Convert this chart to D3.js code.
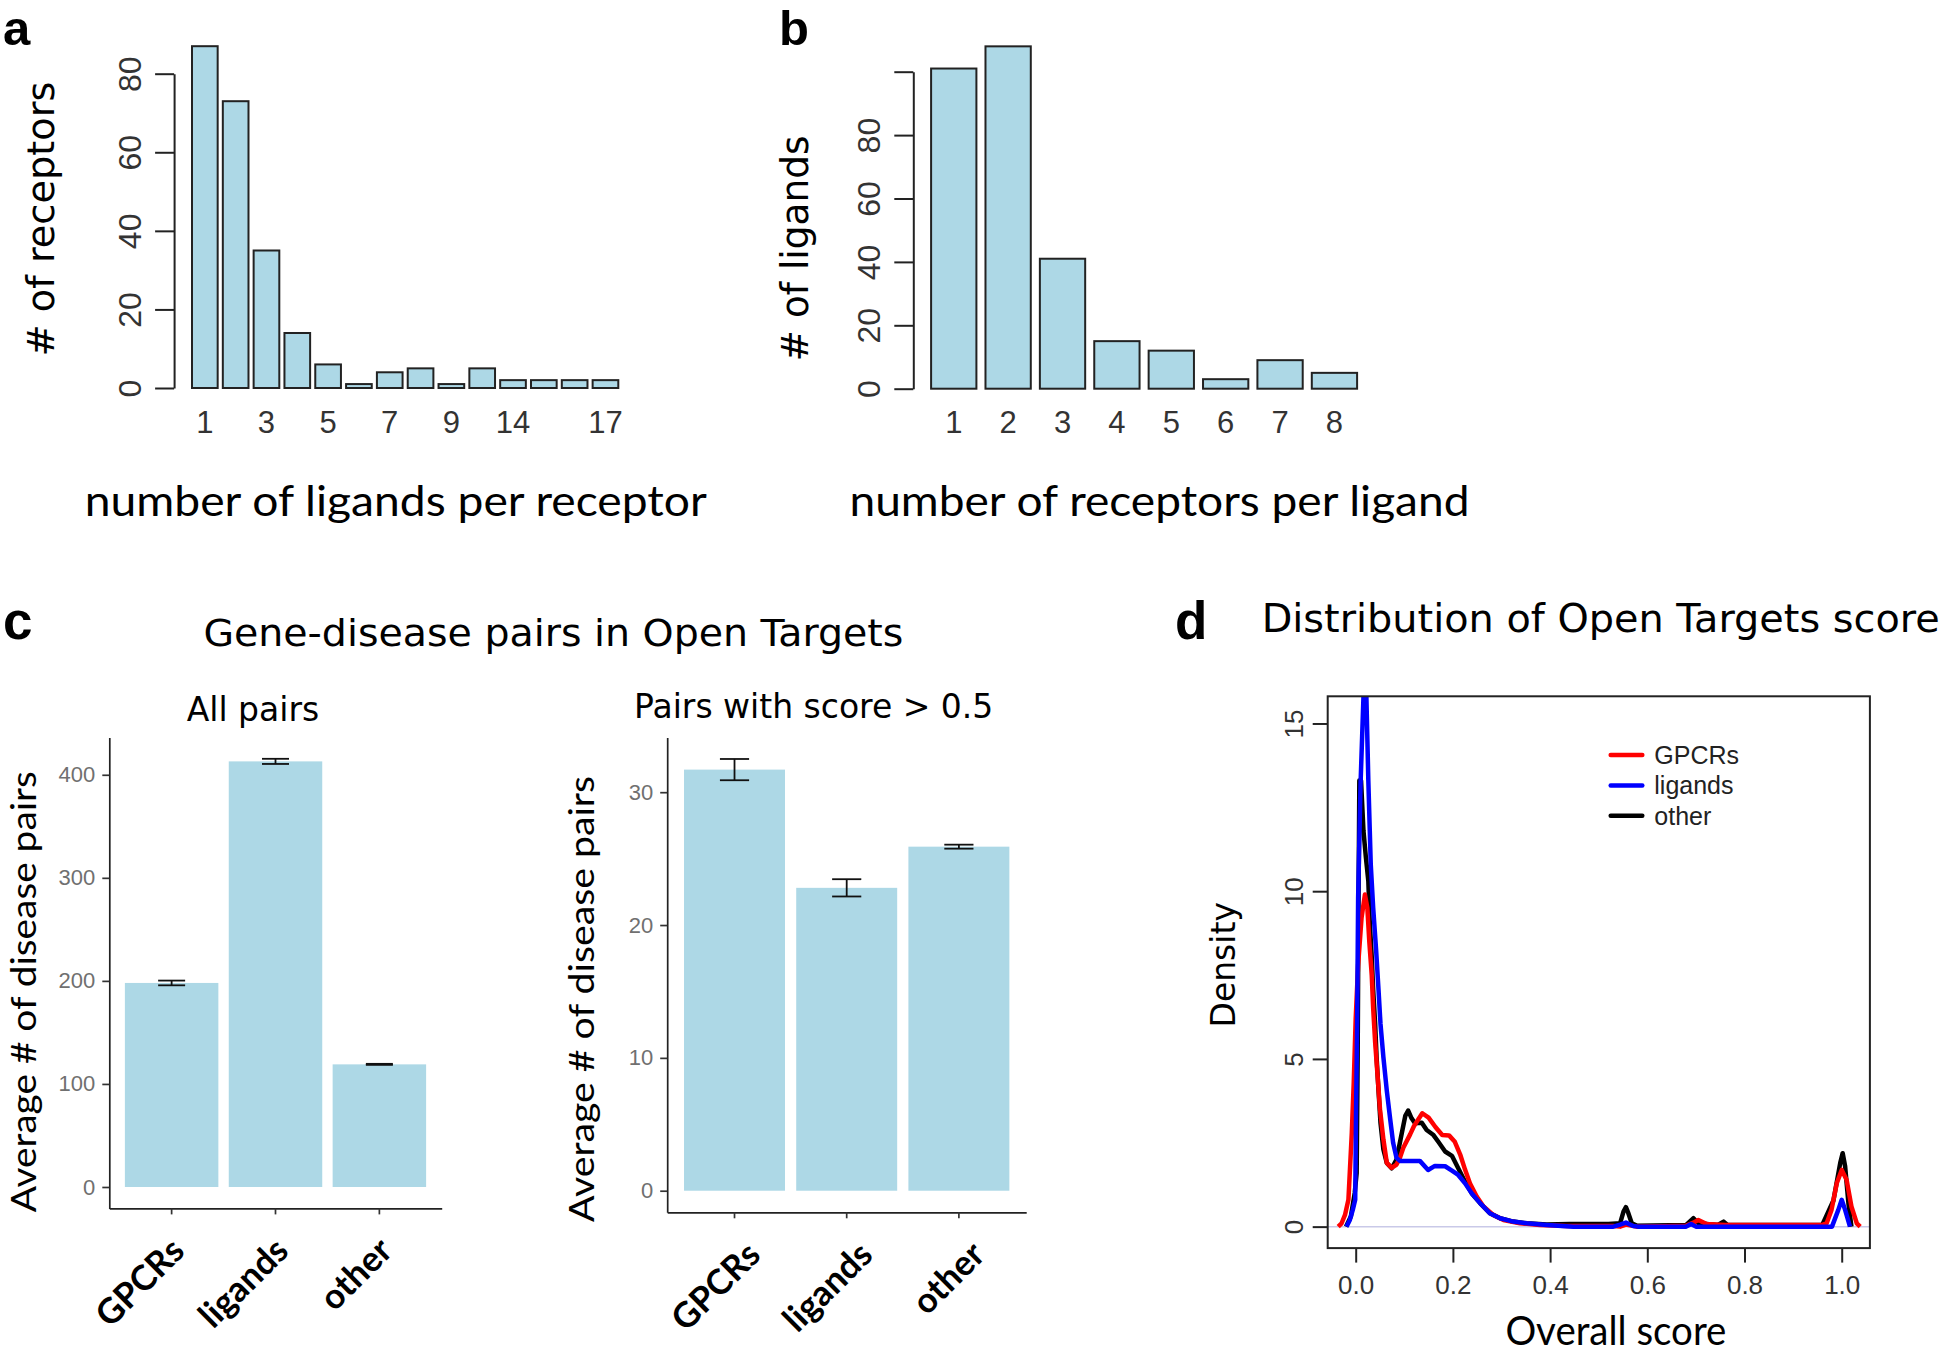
<!DOCTYPE html>
<html>
<head>
<meta charset="utf-8">
<script src="https://cdn.jsdelivr.net/npm/d3@7"></script>
<style>
  body { margin: 0; background: #fff; }
</style>
</head>
<body>
<div id="chart"></div>
<script>
// ---- data ----
// panel a
const ligandsPerReceptor = ['1', '2', '3', '4', '5', '6', '7', '8', '9', '10', '14', '15', '16', '17'];
const receptorCounts = [87, 73, 35, 14, 6, 1, 4, 5, 1, 5, 2, 2, 2, 2];
const ligandTickLabels = ['1', '3', '5', '7', '9', '14', '17'];
const receptorYTicks = [0, 20, 40, 60, 80];

// panel b
const receptorsPerLigand = ['1', '2', '3', '4', '5', '6', '7', '8'];
const ligandCounts = [101, 108, 41, 15, 12, 3, 9, 5];
const ligandYTicks = [0, 20, 40, 60, 80, 100];
const ligandYLabels = ['0', '20', '40', '60', '80', ''];

// panel c
const groups = ['GPCRs', 'ligands', 'other'];
const allPairsMean = [198, 413, 119];
const allPairsErr = [2.3, 2.5, 0.5];
const allPairsTicks = [0, 100, 200, 300, 400];
const highScoreMean = [31.7, 22.8, 25.9];
const highScoreErr = [0.8, 0.65, 0.15];
const highScoreTicks = [0, 10, 20, 30];

// panel d: density curves [score, density]
const gpcrDensity = [[-0.036, 0], [-0.029, 0.1], [-0.022, 0.35], [-0.015, 0.8], [-0.008, 2.8], [-0.004, 4.3],
  [0.0, 6.2], [0.005, 7.8], [0.012, 9.2], [0.019, 9.9], [0.024, 9.5], [0.028, 8.5], [0.033, 7.5], [0.036, 6.5],
  [0.040, 5.5], [0.045, 4.5], [0.050, 3.5], [0.057, 2.6], [0.064, 1.9], [0.074, 1.75], [0.084, 1.85], [0.091, 2.05],
  [0.098, 2.35], [0.112, 2.75], [0.120, 3.0], [0.137, 3.38], [0.150, 3.25], [0.164, 2.97], [0.178, 2.73],
  [0.192, 2.72], [0.204, 2.53], [0.215, 2.15], [0.225, 1.7], [0.235, 1.29], [0.249, 0.9], [0.263, 0.6],
  [0.283, 0.35], [0.304, 0.2], [0.338, 0.1], [0.379, 0.05], [0.434, 0.02], [0.530, 0.02], [0.544, 0.0],
  [0.556, 0.06], [0.578, 0.0], [0.680, 0.03], [0.695, 0.12], [0.705, 0.2], [0.722, 0.08], [0.760, 0.05],
  [0.960, 0.05], [0.969, 0.1], [0.979, 0.5], [0.990, 1.3], [1.000, 1.69], [1.010, 1.4], [1.020, 0.6],
  [1.031, 0.1], [1.038, 0]];
const ligandDensity = [[-0.019, 0], [-0.012, 0.2], [-0.006, 0.5], [-0.001, 0.8], [0.0005, 3.1], [0.003, 6.1],
  [0.005, 9.8], [0.010, 13.2], [0.016, 15.8], [0.022, 15.8], [0.026, 13.3], [0.031, 10.8], [0.036, 9.5],
  [0.042, 8.25], [0.047, 7.05], [0.051, 6.05], [0.057, 5.05], [0.064, 4.05], [0.071, 3.2], [0.077, 2.5],
  [0.084, 2.05], [0.091, 1.96], [0.132, 1.96], [0.149, 1.69], [0.163, 1.81], [0.184, 1.8], [0.198, 1.67],
  [0.211, 1.54], [0.225, 1.29], [0.239, 0.99], [0.256, 0.7], [0.276, 0.4], [0.297, 0.25], [0.324, 0.15],
  [0.352, 0.1], [0.393, 0.05], [0.448, 0], [0.530, 0], [0.544, 0.06], [0.556, 0.12], [0.571, 0.02], [0.580, 0],
  [0.680, 0], [0.690, 0.08], [0.700, 0], [0.980, 0], [0.993, 0.5], [1.000, 0.8], [1.007, 0.5], [1.017, 0]];
const otherDensity = [[-0.020, 0], [-0.010, 0.3], [-0.002, 1.0], [0.002, 1.6], [0.004, 5.0], [0.006, 10.0],
  [0.0075, 13.3], [0.011, 13.3], [0.016, 11.8], [0.021, 11.0], [0.026, 10.3], [0.029, 9.05], [0.033, 8.05],
  [0.036, 7.05], [0.040, 6.05], [0.043, 5.05], [0.047, 4.05], [0.051, 3.1], [0.057, 2.3], [0.064, 1.9],
  [0.074, 1.74], [0.084, 2.0], [0.095, 2.8], [0.102, 3.3], [0.108, 3.46], [0.115, 3.23], [0.122, 3.08],
  [0.136, 3.1], [0.146, 2.88], [0.160, 2.73], [0.170, 2.53], [0.184, 2.24], [0.198, 2.11], [0.211, 1.74],
  [0.225, 1.34], [0.239, 0.99], [0.256, 0.7], [0.276, 0.4], [0.297, 0.25], [0.324, 0.15], [0.352, 0.1],
  [0.393, 0.06], [0.440, 0.08], [0.520, 0.08], [0.544, 0.1], [0.551, 0.45], [0.556, 0.58], [0.561, 0.4],
  [0.568, 0.1], [0.578, 0.03], [0.680, 0.05], [0.695, 0.25], [0.705, 0.1], [0.745, 0.05], [0.757, 0.15],
  [0.765, 0.05], [0.960, 0.05], [0.983, 0.78], [0.997, 1.9], [1.002, 2.19], [1.007, 1.8], [1.014, 0.67],
  [1.020, 0]];
const scoreTicks = [0, 0.2, 0.4, 0.6, 0.8, 1.0];
const densityTicks = [0, 5, 10, 15];
const legendNames = ['GPCRs', 'ligands', 'other'];
const legendColors = ['#ff0000', '#0000ff', '#000000'];

// ---- fonts and colours ----
const ARIAL = "'Liberation Sans', Arial, sans-serif";
const VERDANA = "'DejaVu Sans', Verdana, sans-serif";
const CALIBRI = "Lato, Carlito, Calibri, sans-serif";
const BAR = '#add8e6';

const svg = d3.select('#chart').append('svg')
  .attr('width', 1946)
  .attr('height', 1356)
  .style('background', '#fff');

// helper for plain text
function label(g, txt, x, y, o = {}) {
  const t = g.append('text')
    .attr('x', x).attr('y', y)
    .attr('font-family', o.font || CALIBRI)
    .attr('font-size', o.size || 30)
    .attr('font-weight', o.weight || 'normal')
    .attr('fill', o.fill || '#000')
    .attr('text-anchor', o.anchor || 'start')
    .text(txt);
  if (o.length) t.attr('textLength', o.length).attr('lengthAdjust', 'spacingAndGlyphs');
  return t;
}

// rotated (bottom-to-top) text, centred on cy
function vlabel(g, txt, bx, cy, o = {}) {
  const t = g.append('text')
    .attr('transform', `translate(${bx},${cy}) rotate(-90)`)
    .attr('font-family', o.font || VERDANA)
    .attr('font-size', o.size || 30)
    .attr('fill', o.fill || '#000')
    .attr('text-anchor', 'middle')
    .text(txt);
  if (o.length) t.attr('textLength', o.length).attr('lengthAdjust', 'spacingAndGlyphs');
  return t;
}

// d3.axis writes its own font attrs on call, so set ours afterwards
function axisFont(a, family, size) {
  a.attr('font-family', family).attr('font-size', size);
  return a;
}

// R style barplot (panels a and b)
function histogram(o) {
  const g = svg.append('g');
  const x = d3.scaleBand().domain(o.cats).range(o.xRange).paddingInner(0.167).paddingOuter(0);
  const y = d3.scaleLinear().domain(o.yDomain).range(o.yRange);

  g.selectAll('rect.bar')
    .data(o.counts)
    .join('rect')
      .attr('class', 'bar')
      .attr('x', (d, i) => x(o.cats[i]))
      .attr('width', x.bandwidth())
      .attr('y', d => y(d))
      .attr('height', d => y(0) - y(d))
      .attr('fill', BAR)
      .attr('stroke', '#222')
      .attr('stroke-width', 2);

  const yAxis = d3.axisLeft(y)
    .tickValues(o.yTicks)
    .tickFormat((d, i) => o.yLabels[i])
    .tickSize(19)
    .tickSizeOuter(0);

  const ya = g.append('g')
    .attr('transform', `translate(${o.axisX},0)`)
    .call(yAxis);
  axisFont(ya, ARIAL, 32);
  ya.select('.domain').attr('stroke', '#222').attr('stroke-width', 2);
  ya.selectAll('.tick line').attr('stroke', '#222').attr('stroke-width', 2);
  ya.selectAll('.tick text')
    .attr('x', null).attr('dy', null)
    .attr('fill', '#333')
    .attr('text-anchor', 'middle')
    .attr('transform', 'translate(-33,0) rotate(-90)');

  // category names, R skips the ones that would overlap
  g.selectAll('text.xl')
    .data(o.shown)
    .join('text')
      .attr('class', 'xl')
      .attr('x', d => x(d) + x.bandwidth() / 2)
      .attr('y', o.labelY)
      .attr('text-anchor', 'middle')
      .attr('font-family', ARIAL)
      .attr('font-size', 31)
      .attr('fill', '#333')
      .text(d => d);
  return g;
}

// ggplot style bar chart with error bars (panel c)
function errorBars(o) {
  const g = svg.append('g');
  const x = d3.scaleBand().domain(groups).range(o.xRange).paddingInner(0.1).paddingOuter(0.15);
  const top = d3.max(o.mean, (d, i) => d + o.err[i]);
  const y = d3.scaleLinear().domain([-0.05 * top, 1.05 * top]).range(o.yRange);

  g.selectAll('rect.bar')
    .data(o.mean)
    .join('rect')
      .attr('class', 'bar')
      .attr('x', (d, i) => x(groups[i]))
      .attr('width', x.bandwidth())
      .attr('y', d => y(d))
      .attr('height', d => y(0) - y(d))
      .attr('fill', BAR);

  const capW = x.step() * 0.26;
  const eb = g.selectAll('g.err')
    .data(o.mean)
    .join('g')
      .attr('class', 'err')
      .attr('transform', (d, i) => `translate(${x(groups[i]) + x.bandwidth() / 2},0)`)
      .attr('stroke', '#111')
      .attr('stroke-width', 1.8);
  eb.append('line').attr('x1', 0).attr('x2', 0)
    .attr('y1', (d, i) => y(d - o.err[i])).attr('y2', (d, i) => y(d + o.err[i]));
  eb.append('line').attr('x1', -capW / 2).attr('x2', capW / 2)
    .attr('y1', (d, i) => y(d + o.err[i])).attr('y2', (d, i) => y(d + o.err[i]));
  eb.append('line').attr('x1', -capW / 2).attr('x2', capW / 2)
    .attr('y1', (d, i) => y(d - o.err[i])).attr('y2', (d, i) => y(d - o.err[i]));

  const ya = g.append('g')
    .attr('transform', `translate(${o.xRange[0]},0)`)
    .call(d3.axisLeft(y).tickValues(o.ticks).tickSize(7).tickSizeOuter(0).tickPadding(7));
  axisFont(ya, ARIAL, 22);
  ya.selectAll('.tick text').attr('fill', '#707070');

  const xa = g.append('g')
    .attr('transform', `translate(0,${o.yRange[0]})`)
    .call(d3.axisBottom(x).tickSize(6).tickSizeOuter(0).tickFormat(''));

  [ya, xa].forEach(a => {
    a.select('.domain').attr('stroke', '#222').attr('stroke-width', 1.7);
    a.selectAll('.tick line').attr('stroke', '#333').attr('stroke-width', 1.7);
  });

  g.selectAll('text.cat')
    .data(groups)
    .join('text')
      .attr('class', 'cat')
      .attr('transform', d => `translate(${x(d) + x.bandwidth() / 2 + o.labelDx},${o.labelY}) rotate(-45)`)
      .attr('dy', '0.72em')
      .attr('text-anchor', 'end')
      .attr('font-family', CALIBRI)
      .attr('font-weight', 700)
      .attr('font-size', 35)
      .attr('fill', '#000')
      .text(d => d);
  return g;
}

// ---------- panel a ----------
histogram({
  cats: ligandsPerReceptor, counts: receptorCounts, shown: ligandTickLabels,
  yTicks: receptorYTicks, yLabels: receptorYTicks.map(String),
  xRange: [192, 618.3], yDomain: [0, 80], yRange: [388, 73.7], axisX: 174.1, labelY: 433
});
label(svg, 'a', 3, 45, { font: ARIAL, size: 49, weight: 700 });
vlabel(svg, '# of receptors', 54, 219, { size: 37, length: 275 });
label(svg, 'number of ligands per receptor', 84.8, 515.5, { size: 42, length: 622 });

// ---------- panel b ----------
histogram({
  cats: receptorsPerLigand, counts: ligandCounts, shown: receptorsPerLigand,
  yTicks: ligandYTicks, yLabels: ligandYLabels,
  xRange: [931.1, 1357.1], yDomain: [0, 100], yRange: [388.7, 71.7], axisX: 913.3, labelY: 433
});
label(svg, 'b', 779, 45, { font: ARIAL, size: 49, weight: 700 });
vlabel(svg, '# of ligands', 808, 248.4, { size: 37, length: 226 });
label(svg, 'number of receptors per ligand', 849.5, 515.5, { size: 42, length: 620 });

// ---------- panel c ----------
label(svg, 'c', 3, 639, { font: ARIAL, size: 53, weight: 700 });
label(svg, 'Gene-disease pairs in Open Targets', 203.4, 645.8, { font: VERDANA, size: 38, length: 700 });

errorBars({
  mean: allPairsMean, err: allPairsErr, ticks: allPairsTicks,
  xRange: [109.3, 441.7], yRange: [1208.4, 737.4], labelDx: -3, labelY: 1235
});
label(svg, 'All pairs', 186.7, 720.5, { font: VERDANA, size: 33 });
vlabel(svg, 'Average # of disease pairs', 36, 991.7, { font: CALIBRI, size: 35, length: 441 });

errorBars({
  mean: highScoreMean, err: highScoreErr, ticks: highScoreTicks,
  xRange: [667.2, 1026.2], yRange: [1212.3, 737.4], labelDx: 10, labelY: 1239
});
label(svg, 'Pairs with score > 0.5', 634, 718.1, { font: VERDANA, size: 33 });
vlabel(svg, 'Average # of disease pairs', 594, 999, { font: CALIBRI, size: 35, length: 446 });

// ---------- panel d ----------
const dg = svg.append('g');
const dx = d3.scaleLinear().domain([-0.0576, 1.058]).range([1327.7, 1869.9]);
const dy = d3.scaleLinear().domain([-0.64, 15.81]).range([1248.1, 696.3]);

svg.append('defs').append('clipPath').attr('id', 'dclip')
  .append('rect')
    .attr('x', dx.range()[0]).attr('y', dy.range()[1])
    .attr('width', dx.range()[1] - dx.range()[0])
    .attr('height', dy.range()[0] - dy.range()[1]);

// zero reference line
dg.append('line')
  .attr('x1', dx.range()[0]).attr('x2', dx.range()[1])
  .attr('y1', dy(0)).attr('y2', dy(0))
  .attr('stroke', '#c9c9e8').attr('stroke-width', 1.5);

const densLine = d3.line().x(d => dx(d[0])).y(d => dy(d[1]));
const curves = [otherDensity, gpcrDensity, ligandDensity];
const curveColors = ['#000000', '#ff0000', '#0000ff'];
dg.append('g').attr('clip-path', 'url(#dclip)')
  .selectAll('path')
  .data(curves)
  .join('path')
    .attr('d', densLine)
    .attr('fill', 'none')
    .attr('stroke', (d, i) => curveColors[i])
    .attr('stroke-width', 4.5)
    .attr('stroke-linejoin', 'round');

// box
dg.append('rect')
  .attr('x', dx.range()[0]).attr('y', dy.range()[1])
  .attr('width', dx.range()[1] - dx.range()[0])
  .attr('height', dy.range()[0] - dy.range()[1])
  .attr('fill', 'none').attr('stroke', '#222').attr('stroke-width', 2);

const dxa = dg.append('g')
  .attr('transform', `translate(0,${dy.range()[0]})`)
  .call(d3.axisBottom(dx).tickValues(scoreTicks).tickFormat(d3.format('.1f')).tickSize(14.5));
axisFont(dxa, ARIAL, 26);
dxa.select('.domain').remove();
dxa.selectAll('.tick line').attr('stroke', '#222').attr('stroke-width', 2);
dxa.selectAll('.tick text').attr('y', 46).attr('dy', null).attr('fill', '#333');

const dya = dg.append('g')
  .attr('transform', `translate(${dx.range()[0]},0)`)
  .call(d3.axisLeft(dy).tickValues(densityTicks).tickSize(15));
axisFont(dya, ARIAL, 26);
dya.select('.domain').remove();
dya.selectAll('.tick line').attr('stroke', '#222').attr('stroke-width', 2);
dya.selectAll('.tick text')
  .attr('x', null).attr('dy', null)
  .attr('fill', '#333')
  .attr('text-anchor', 'middle')
  .attr('transform', 'translate(-25,0) rotate(-90)');

// legend
const leg = dg.append('g').attr('transform', 'translate(1610.7,755)');
const rows = leg.selectAll('g')
  .data(legendNames)
  .join('g')
    .attr('transform', (d, i) => `translate(0,${i * 30.4})`);
rows.append('line')
  .attr('x1', 0).attr('x2', 31.6).attr('y1', 0).attr('y2', 0)
  .attr('stroke', (d, i) => legendColors[i])
  .attr('stroke-width', 4.5).attr('stroke-linecap', 'round');
rows.append('text')
  .attr('x', 43.6).attr('y', 9)
  .attr('font-family', ARIAL).attr('font-size', 25).attr('fill', '#222')
  .text(d => d);

label(svg, 'd', 1175, 639.4, { font: ARIAL, size: 53, weight: 700 });
label(svg, 'Distribution of Open Targets score', 1261.7, 632, { font: VERDANA, size: 39, length: 678 });
vlabel(svg, 'Density', 1235, 964.8, { size: 33 });
label(svg, 'Overall score', 1505.4, 1345, { size: 40, length: 221 });
</script>
</body>
</html>
